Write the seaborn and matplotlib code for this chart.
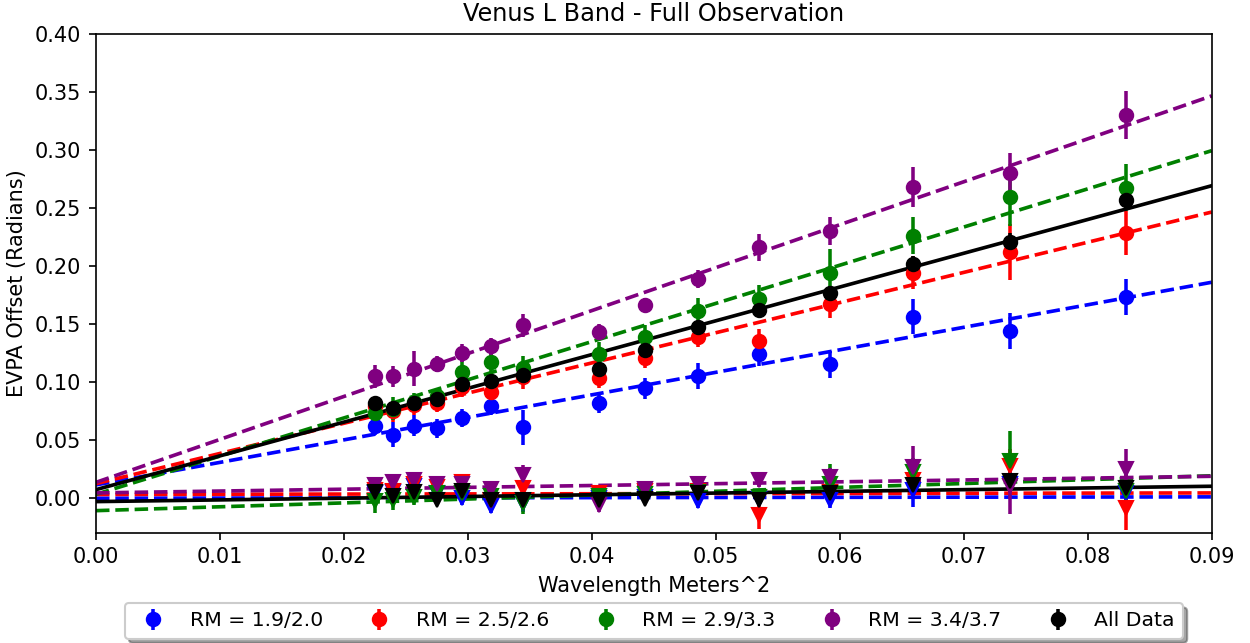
import matplotlib
matplotlib.use("Agg")
import matplotlib.pyplot as plt
import seaborn as sns
import numpy as np
import pandas as pd

# Wavelength squared (m^2)
wl2 = [0.022469, 0.023979, 0.025646, 0.027494, 0.029549, 0.031844, 0.034416,
       0.040592, 0.044322, 0.048592, 0.053510, 0.059213, 0.065880, 0.073740, 0.083095]

labels = ["RM = 1.9/2.0", "RM = 2.5/2.6", "RM = 2.9/3.3", "RM = 3.4/3.7", "All Data"]
colors = ["blue", "red", "green", "purple", "black"]

# Upper branch (circles)
blue_hi = [0.062, 0.0545, 0.062, 0.060, 0.069, 0.0795, 0.061, 0.082, 0.0945, 0.105, 0.124, 0.115, 0.156, 0.1435, 0.173]
red_hi = [0.079, 0.0746, 0.0798, 0.0818, 0.0956, 0.0909, 0.104, 0.1033, 0.1205, 0.1386, 0.1354, 0.167, 0.1942, 0.2118, 0.2281]
green_hi = [0.0732, 0.077, 0.0827, 0.0875, 0.1081, 0.1168, 0.112, 0.1242, 0.1386, 0.1613, 0.1713, 0.1942, 0.2258, 0.2591, 0.2674]
purple_hi = [0.1047, 0.1047, 0.1113, 0.1156, 0.1248, 0.1305, 0.1486, 0.1429, 0.166, 0.1888, 0.2158, 0.2301, 0.268, 0.2798, 0.330]
black_hi = [0.0818, 0.0775, 0.0815, 0.0852, 0.0984, 0.1004, 0.1062, 0.111, 0.1277, 0.1472, 0.1621, 0.1765, 0.2015, 0.2204, 0.2568]

blue_hi_err = [0.008, 0.011, 0.009, 0.008, 0.008, 0.008, 0.015, 0.009, 0.009, 0.011, 0.010, 0.012, 0.015, 0.0155, 0.0156]
red_hi_err = [0.008, 0.009, 0.008, 0.008, 0.009, 0.008, 0.010, 0.009, 0.009, 0.009, 0.010, 0.012, 0.014, 0.024, 0.019]
green_hi_err = [0.009, 0.010, 0.008, 0.007, 0.010, 0.010, 0.010, 0.010, 0.010, 0.011, 0.012, 0.020, 0.016, 0.025, 0.020]
purple_hi_err = [0.010, 0.009, 0.015, 0.007, 0.008, 0.007, 0.010, 0.007, 0.006, 0.008, 0.012, 0.012, 0.017, 0.017, 0.0205]
black_hi_err = [0.004, 0.004, 0.004, 0.004, 0.004, 0.004, 0.005, 0.005, 0.005, 0.005, 0.005, 0.006, 0.007, 0.008, 0.009]

# Lower branch (triangles)
blue_lo = [0.004, 0.005, 0.010, 0.004, 0.000, -0.007, -0.004, 0.000, 0.001, -0.003, -0.001, -0.002, 0.007, 0.012, 0.0045]
red_lo = [0.007, 0.006, 0.012, 0.009, 0.014, -0.0015, 0.0086, 0.004, 0.006, 0.006, -0.0144, 0.005, 0.015, 0.0272, -0.0086]
green_lo = [-0.003, -0.0015, 0.0008, 0.004, 0.004, 0.002, -0.0043, 0.002, 0.003, 0.005, 0.001, 0.012, 0.022, 0.0315, 0.006]
purple_lo = [0.011, 0.0135, 0.0158, 0.0117, 0.012, 0.0077, 0.020, -0.0058, 0.0077, 0.0123, 0.0158, 0.018, 0.0267, 0.010, 0.025]
black_lo = [0.0048, 0.0014, 0.0048, -0.0015, 0.006, -0.0015, -0.0015, -0.0015, -0.001, 0.0043, -0.0015, 0.0043, 0.0115, 0.0143, 0.0086]

blue_lo_err = [0.005, 0.005, 0.005, 0.005, 0.006, 0.006, 0.008, 0.005, 0.005, 0.006, 0.006, 0.007, 0.015, 0.010, 0.010]
red_lo_err = [0.006, 0.006, 0.006, 0.006, 0.006, 0.006, 0.007, 0.006, 0.006, 0.006, 0.012, 0.007, 0.010, 0.015, 0.019]
green_lo_err = [0.010, 0.009, 0.007, 0.006, 0.006, 0.006, 0.010, 0.006, 0.006, 0.006, 0.007, 0.017, 0.012, 0.026, 0.015]
purple_lo_err = [0.005, 0.005, 0.005, 0.005, 0.005, 0.005, 0.008, 0.006, 0.005, 0.005, 0.006, 0.008, 0.018, 0.024, 0.017]
black_lo_err = [0.004, 0.004, 0.004, 0.004, 0.004, 0.004, 0.004, 0.004, 0.004, 0.004, 0.004, 0.005, 0.005, 0.006, 0.006]

# Linear fits (intercept, slope)
hi_intercepts = [0.0112, 0.0123, 0.0031, 0.0134, 0.0071]
hi_slopes = [1.94, 2.60, 3.29, 3.70, 2.91]
lo_intercepts = [-0.0003, 0.0030, -0.0110, 0.0043, -0.0032]
lo_slopes = [0.013, 0.014, 0.334, 0.159, 0.147]

fit_x = [0.0, 0.09]

his = [blue_hi, red_hi, green_hi, purple_hi, black_hi]
hi_errs = [blue_hi_err, red_hi_err, green_hi_err, purple_hi_err, black_hi_err]
los = [blue_lo, red_lo, green_lo, purple_lo, black_lo]
lo_errs = [blue_lo_err, red_lo_err, green_lo_err, purple_lo_err, black_lo_err]

dpi = 150
fig, ax = plt.subplots(figsize=(1250 / dpi, 643 / dpi), dpi=dpi)
fig.subplots_adjust(left=96 / 1250, right=1211.7 / 1250, top=1 - 33.7 / 643, bottom=1 - 532.7 / 643)

handles = []
for i in range(5):
    c = colors[i]
    ls = "-" if i == 4 else "--"
    h = ax.errorbar(wl2, his[i], yerr=hi_errs[i], fmt="o", color=c, label=labels[i],
                    markersize=6.4, elinewidth=1.7)
    handles.append(h)
    ax.errorbar(wl2, los[i], yerr=lo_errs[i], fmt="v", color=c, markersize=6.4, elinewidth=1.7)
    df_hi = pd.DataFrame({"x": fit_x, "y": [hi_intercepts[i] + hi_slopes[i] * v for v in fit_x]})
    df_lo = pd.DataFrame({"x": fit_x, "y": [lo_intercepts[i] + lo_slopes[i] * v for v in fit_x]})
    sns.lineplot(data=df_hi, x="x", y="y", ax=ax, color=c, linestyle=ls, linewidth=1.75, legend=False)
    sns.lineplot(data=df_lo, x="x", y="y", ax=ax, color=c, linestyle=ls, linewidth=1.75, legend=False)

ax.set_xlim(0, 0.09)
ax.set_ylim(-0.03, 0.40)
ax.set_xticks(np.arange(0, 0.0901, 0.01))
ax.set_yticks(np.arange(0, 0.401, 0.05))
ax.set_xticklabels([f"{v:.2f}" for v in np.arange(0, 0.0901, 0.01)])
ax.set_yticklabels([f"{v:.2f}" for v in np.arange(0, 0.401, 0.05)])
ax.set_xlabel("Wavelength Meters^2")
ax.set_ylabel("EVPA Offset (Radians)")
ax.set_title("Venus L Band - Full Observation", fontsize=11.5)
ax.legend(handles=handles, labels=labels, loc="upper center", bbox_to_anchor=(0.5, -0.121),
          ncol=5, shadow=True, fancybox=True, fontsize=9.8, columnspacing=1.75)

fig.savefig("out.png", dpi=dpi)
